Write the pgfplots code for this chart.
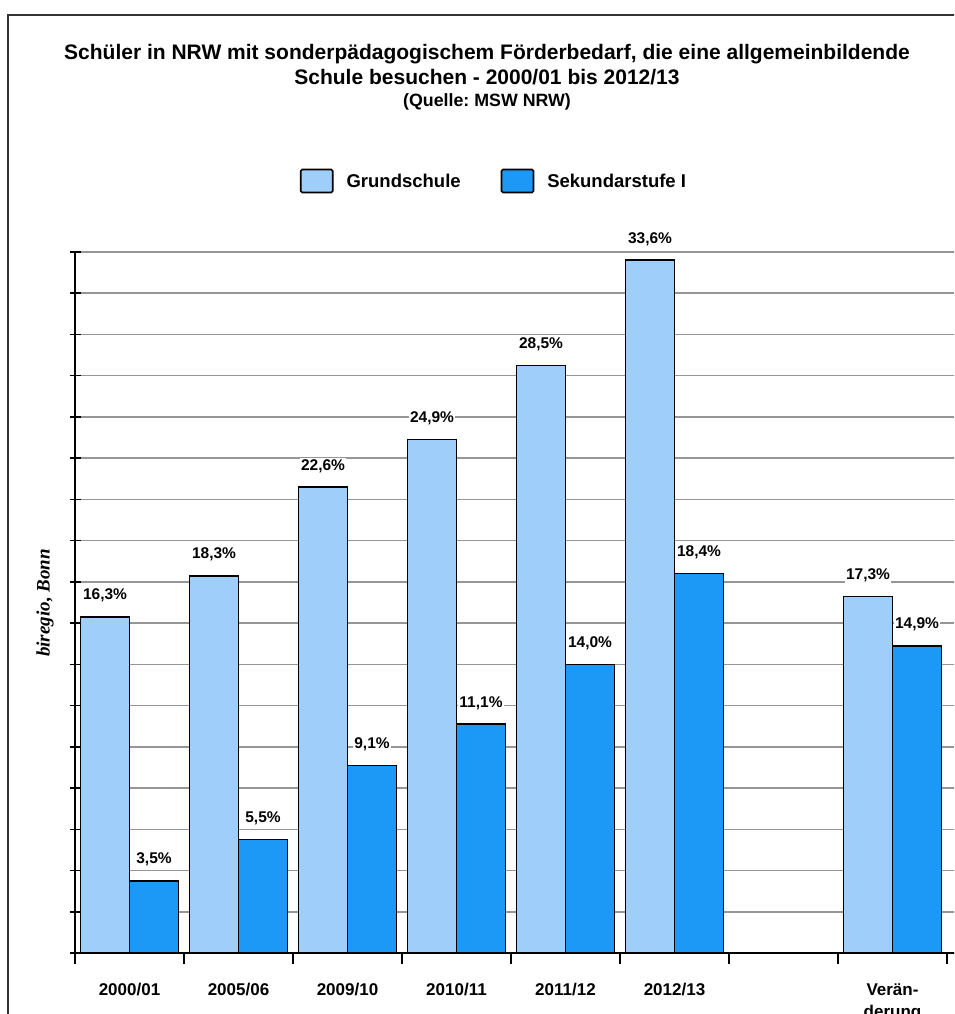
\documentclass[border=0pt]{standalone}
\usepackage{fontspec}
\setmainfont{Liberation Sans}
\newfontfamily\serifit{Liberation Serif}
\usepackage{pgfplots}
\pgfplotsset{compat=1.18}
\frenchspacing

\definecolor{grund}{RGB}{160,206,250}
\definecolor{sek}{RGB}{28,152,246}
\definecolor{gridgray}{RGB}{150,150,150}

% Anteile in Prozent; Position 6 bleibt frei, 7 = Veraenderung
\pgfplotstableread{
x  val
0  16.3
1  18.3
2  22.6
3  24.9
4  28.5
5  33.6
7  17.3
}\grundschule
\pgfplotstableread{
x  val
0  3.5
1  5.5
2  9.1
3  11.1
4  14.0
5  18.4
7  14.9
}\sekundar

\begin{document}
\begin{tikzpicture}[x=1pt,y=1pt]
\useasboundingbox (0,0) rectangle (954,-1014);
\clip (0,0) rectangle (954,-1014);
\draw[line width=1.8pt, black!80] (8,-15) rectangle (1100,-1200);

\node[font=\bfseries\fontsize{21}{25}\selectfont, anchor=base] at (487,-60)
  {Schüler in NRW mit sonderpädagogischem Förderbedarf, die eine allgemeinbildende};
\node[font=\bfseries\fontsize{21}{25}\selectfont, anchor=base] at (487,-85)
  {Schule besuchen - 2000/01 bis 2012/13};
\node[font=\bfseries\fontsize{17.8}{21}\selectfont, anchor=base] at (487,-107)
  {(Quelle: MSW NRW)};
\node[font=\serifit\bfseries\itshape\fontsize{19}{22}\selectfont, rotate=90] at (45,-603)
  {biregio, Bonn};

\begin{axis}[
  at={(75pt,-953pt)}, anchor=south west,
  scale only axis, width=882.9pt, height=701pt,
  xmin=-0.5, xmax=7.6, ymin=0, ymax=34,
  clip=false,
  axis lines*=left,
  axis line style={line width=1.8pt, black},
  ytick={0,2,...,34}, yticklabels={},
  ymajorgrids, grid style={line width=1.5pt, gridgray},
  tick align=center, major tick length=11pt,
  tick style={line width=1.5pt, black},
  xtick={-0.5,0.5,...,7.5}, xticklabels={},
  extra x ticks={0,1,2,3,4,5,7},
  extra x tick labels={2000/01,2005/06,2009/10,2010/11,2011/12,2012/13,{Verän-\\derung}},
  extra x tick style={major tick length=0pt,
    xticklabel style={align=center, font=\bfseries\fontsize{17}{22}\selectfont, yshift=-27pt}},
  ybar=0pt, bar width=49pt,
  nodes near coords={\pgfmathprintnumber[fixed,fixed zerofill,precision=1,use comma,assume math mode=true]{\pgfplotspointmeta}\%},
  every node near coord/.append style={font=\bfseries\fontsize{15.5}{18}\selectfont,
    fill=white, inner sep=1pt, anchor=base, yshift=17pt},
  legend style={at={(axis description cs:0.4746,1.1013)}, anchor=center,
    draw=none, fill=none, font=\bfseries\fontsize{18.5}{22}\selectfont,
    /tikz/every odd column/.append style={column sep=11pt},
    /tikz/every even column/.append style={column sep=38pt}},
  legend columns=2,
  boxlegend/.style={legend image code/.code={
    \draw[##1, line width=1.6pt, rounded corners=1.5pt] (0pt,-11pt) rectangle (32pt,12pt);}},
]
\addplot[fill=grund, draw=black, line width=1.6pt, boxlegend] table[x=x,y=val] {\grundschule};
\addlegendentry{Grundschule}
\addplot[fill=sek, draw=black, line width=1.6pt, boxlegend] table[x=x,y=val] {\sekundar};
\addlegendentry{Sekundarstufe I}
\end{axis}
\end{tikzpicture}
\end{document}
